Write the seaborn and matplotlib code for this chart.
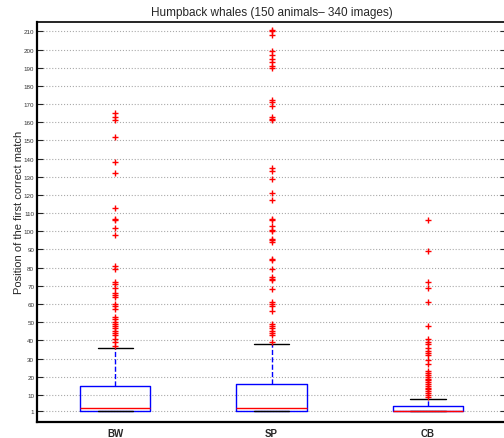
import numpy as np
import pandas as pd
import matplotlib
matplotlib.use("Agg")
import matplotlib.pyplot as plt
import seaborn as sns

methods = ["BW", "SP", "CB"]

# ranks that fall inside the whiskers, stored as rank -> number of queries
bw_ranks = np.arange(1, 37)
bw_counts = [120, 40, 20, 12, 10, 9, 8, 7, 6, 5, 4, 4, 4, 4, 5,
             4, 4, 4, 3, 3, 3, 3, 3, 2, 2, 2, 2, 2, 2, 3, 1, 1, 1, 1, 1, 1]
bw_outliers = [37, 39, 41, 43, 44, 45, 47, 48, 49, 50, 52, 53, 57, 59, 60,
               64, 65, 66, 69, 71, 72, 79, 81, 98, 102, 106, 107, 113,
               132, 138, 152, 161, 163, 165]

sp_ranks = np.arange(1, 39)
sp_counts = [115, 40, 25, 12, 10, 9, 8, 7, 6, 5, 4, 4, 3, 3, 3, 4,
             4, 4, 2, 2, 2, 2, 2, 2, 2, 2, 1, 1, 1, 1, 1, 1, 1, 1, 1, 1, 1, 1]
sp_outliers = [39, 43, 44, 45, 47, 48, 49, 56, 59, 60, 61, 68, 73, 74, 75,
               79, 84, 85, 94, 95, 96, 100, 101, 103, 106, 107, 117, 121,
               129, 133, 135, 161, 162, 163, 169, 171, 172, 190, 191, 193,
               195, 197, 199, 208, 210, 211]

cb_ranks = np.arange(1, 9)
cb_counts = [180, 40, 30, 25, 12, 9, 8, 6]
cb_outliers = [9, 10, 11, 12, 13, 14, 15, 16, 17, 18, 19, 20, 21, 22, 23,
               27, 29, 32, 33, 34, 36, 38, 39, 41, 48, 61, 69, 72, 89, 106]

y_ticks = [1, 10, 20, 30, 40, 50, 60, 70, 80, 90, 100, 110, 120, 130, 140,
           150, 160, 170, 180, 190, 200, 210]

frames = []
for name, ranks, counts, outl in [("BW", bw_ranks, bw_counts, bw_outliers),
                                  ("SP", sp_ranks, sp_counts, sp_outliers),
                                  ("CB", cb_ranks, cb_counts, cb_outliers)]:
    vals = np.concatenate([np.repeat(ranks, counts), outl])
    frames.append(pd.DataFrame({"method": name, "rank": vals}))
df = pd.concat(frames, ignore_index=True)

sns.set_theme(style="white")
plt.rcParams['font.family'] = ['Liberation Sans', 'DejaVu Sans']

fig = plt.figure(figsize=(5.04, 4.39), dpi=100)
ax = fig.add_axes([0.0734, 0.036, 0.931, 0.911])

sns.boxplot(data=df, x="method", y="rank", order=methods, ax=ax,
            width=0.45, whis=1.5, fill=False, color="blue", linewidth=1,
            boxprops=dict(color="blue"),
            whiskerprops=dict(color="blue", linestyle="--"),
            capprops=dict(color="black"),
            medianprops=dict(color="red"),
            flierprops=dict(marker="+", markeredgecolor="red",
                            markersize=5, markeredgewidth=1))

ax.set_xlim(-0.5, 2.5)
ax.set_ylim(-5, 215)
ax.set_yticks(y_ticks)
ax.yaxis.grid(True, linestyle=":", color="#aaaaaa", linewidth=0.8)
ax.set_axisbelow(True)
ax.tick_params(axis="y", direction="in", left=True, right=True,
               length=4, width=0.8, labelsize=4.5, labelcolor="#333333", pad=2)
ax.tick_params(axis="x", length=0, labelsize=7, pad=4)
for lab in ax.get_xticklabels():
    lab.set_fontweight("bold")

for side in ["left", "bottom"]:
    ax.spines[side].set_linewidth(1.6)
    ax.spines[side].set_color("black")
ax.spines["top"].set_linewidth(1.2)
ax.spines["top"].set_color("black")

ax.set_xlabel("")
ax.set_ylabel("Position of the first correct match", fontsize=8)
ax.yaxis.set_label_coords(-0.028, 0.526)
ax.set_title("Humpback whales (150 animals\u2013 340 images)", fontsize=8.5, pad=5)

plt.savefig("out.png", dpi=100)
